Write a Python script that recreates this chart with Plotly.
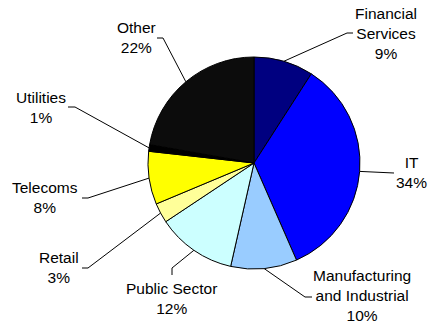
import math
import plotly.graph_objects as go

# Sector split, clockwise from 12 o'clock
sectors = ["Financial Services", "IT", "Manufacturing and Industrial", "Public Sector",
           "Retail", "Telecoms", "Utilities", "Other"]
label_text = ["Financial<br>Services", "IT", "Manufacturing<br>and Industrial", "Public Sector",
              "Retail", "Telecoms", "Utilities", "Other"]
shares = [9, 34, 10, 12, 3, 8, 1, 22]
colors = ["#000080", "#0000FF", "#99CCFF", "#CCFFFF", "#FFFF99", "#FFFF00", "#000000", "#0C0C0C"]

W, H = 429, 321
CX, CY, R = 254, 163, 106  # pie centre and radius in pixels

# label block centres and leader-line elbows (pixels)
label_pos = [(386, 33), (411, 172), (362, 295), (171, 298), (59, 267), (45, 197), (41, 107), (136, 37)]
elbows = [
    [(347, 33), (353, 33)],
    [(388, 173), (394, 173)],
    [(305, 297), (312, 297)],
    [(172, 268), (172, 275)],
    [(88, 268), (82, 268)],
    [(88, 198), (82, 198)],
    [(75, 107), (68, 107)],
    [(163, 38), (157, 38)],
]

total = sum(shares)
fig = go.Figure()

fig.add_trace(go.Pie(
    labels=sectors, values=shares, sort=False, direction="clockwise", rotation=0,
    marker=dict(colors=colors, line=dict(color="#000000", width=1)),
    textinfo="none", hoverinfo="label+percent", showlegend=False,
    domain=dict(x=[(CX - R) / W, (CX + R) / W], y=[1 - (CY + R) / H, 1 - (CY - R) / H]),
))

cum = 0
for i, v in enumerate(shares):
    mid = (cum + v / 2) / total * 2 * math.pi
    cum += v
    ex = CX + R * math.sin(mid)
    ey = CY - R * math.cos(mid)
    xs = [ex] + [p[0] for p in elbows[i]]
    ys = [ey] + [p[1] for p in elbows[i]]
    fig.add_trace(go.Scatter(x=xs, y=ys, mode="lines", line=dict(color="#000000", width=1),
                             hoverinfo="skip", showlegend=False))
    pct = round(v / total * 100)
    lx, ly = label_pos[i]
    fig.add_annotation(x=lx, y=ly, xref="x", yref="y", text=f"{label_text[i]}<br>{pct}%",
                       showarrow=False, xanchor="center", yanchor="middle", align="center",
                       font=dict(family="Liberation Sans, Arial, sans-serif", size=15.5, color="#000000"))

fig.update_layout(
    width=W, height=H, margin=dict(l=0, r=0, t=0, b=0),
    paper_bgcolor="#FFFFFF", plot_bgcolor="rgba(0,0,0,0)",
    xaxis=dict(range=[0, W], visible=False, domain=[0, 1], fixedrange=True),
    yaxis=dict(range=[H, 0], visible=False, domain=[0, 1], fixedrange=True),
)

fig.write_html("out.html", config={"displayModeBar": False})
